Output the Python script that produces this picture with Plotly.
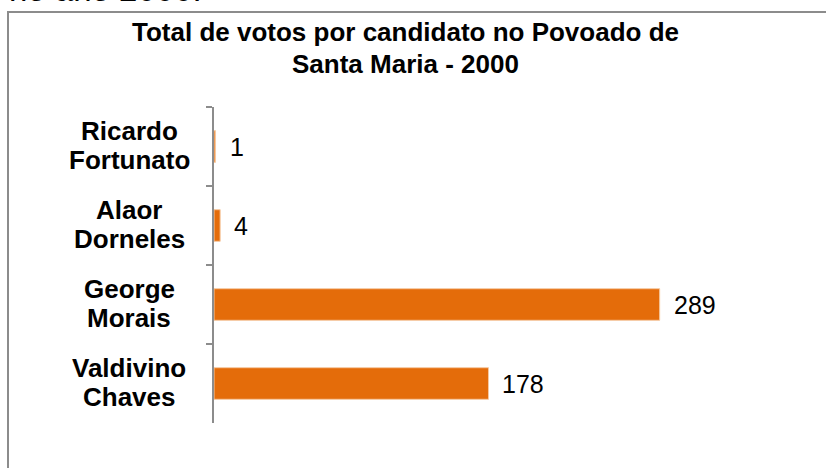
import plotly.graph_objects as go

# data
candidatos = ["Ricardo Fortunato", "Alaor Dorneles", "George Morais", "Valdivino Chaves"]
votos = [1, 4, 289, 178]

titulo = ["Total de votos por candidato no Povoado de", "Santa Maria - 2000"]
texto_acima = "no ano 2000."

LARANJA = "#E46C0A"
CINZA = "#8C8C8C"
FONTE = "Liberation Sans, Arial, sans-serif"

# área do gráfico em pixels
L, R, T, B = 214, 800, 107, 423
W, H = 826, 468


def py(y):  # pixel vertical -> coordenada paper
    return (B - y) / (B - T)


def px(x):  # pixel horizontal -> coordenada paper
    return (x - L) / (R - L)


fig = go.Figure(go.Bar(
    x=votos,
    y=candidatos,
    orientation="h",
    width=0.4,
    marker=dict(color=LARANJA, line=dict(color="#F6C9A2", width=1)),
    hoverinfo="x+y",
))

# rótulos das categorias, duas linhas centralizadas
for c in candidatos:
    linha1, linha2 = c.split(" ", 1)
    for txt, dy in ((linha1, 15.5), (linha2, -13.5)):
        fig.add_annotation(x=px(129), xref="paper", y=c, yref="y", yshift=dy,
                           text="<b>" + txt + "</b>", showarrow=False,
                           xanchor="center", yanchor="middle",
                           font=dict(size=26, color="black", family=FONTE))

# rótulos de valores
for c, v in zip(candidatos, votos):
    fig.add_annotation(x=v, y=c, xref="x", yref="y", text=str(v), showarrow=False,
                       xanchor="left", yanchor="middle", xshift=12,
                       font=dict(size=25, color="black", family=FONTE))

# título (duas linhas)
for txt, yc in zip(titulo, (32, 64)):
    fig.add_annotation(x=px(405.5), y=py(yc), xref="paper", yref="paper",
                       text="<b>" + txt + "</b>", showarrow=False,
                       xanchor="center", yanchor="middle",
                       font=dict(size=26, color="black", family=FONTE))

# moldura do gráfico
fig.add_shape(type="rect", xref="paper", yref="paper",
              x0=px(8), x1=px(840), y0=py(480), y1=py(12),
              line=dict(color=CINZA, width=2), fillcolor="rgba(0,0,0,0)", layer="below")

# texto do documento, cortado no topo
fig.add_annotation(x=px(7), y=py(-11), xref="paper", yref="paper",
                   text=texto_acima, showarrow=False, xanchor="left", yanchor="middle",
                   font=dict(size=33, color="black", family=FONTE))

fig.update_layout(
    width=W, height=H,
    margin=dict(l=L, r=W - R, t=T, b=H - B),
    paper_bgcolor="white", plot_bgcolor="white",
    showlegend=False,
    xaxis=dict(range=[0, 380], visible=False, fixedrange=True),
    yaxis=dict(autorange="reversed", showticklabels=False, showline=True, linecolor=CINZA,
               linewidth=1.5, ticks="outside", tickson="boundaries", ticklen=6,
               tickcolor=CINZA, tickwidth=1.5, showgrid=False, zeroline=False),
)

fig.write_html("out.html", config={"displayModeBar": False},
               post_script="document.body.style.margin='0';")
